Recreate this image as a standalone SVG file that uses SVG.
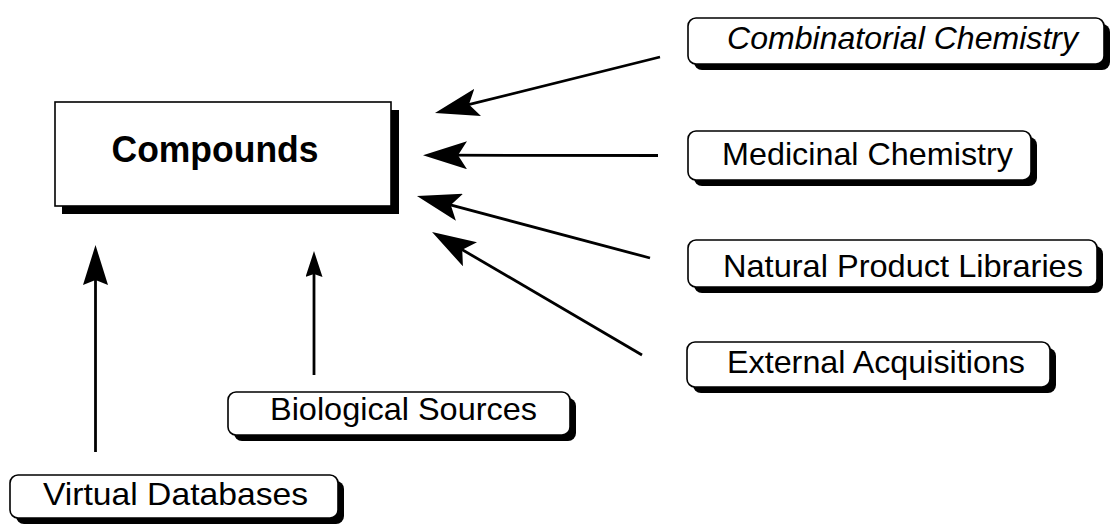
<svg xmlns="http://www.w3.org/2000/svg" width="1112" height="526" viewBox="0 0 1112 526">
<style>
.bg{fill:#fff}
.shadow{fill:#000}
.box{fill:#fff;stroke:#000;stroke-width:1.6}
.lbl{font-family:"Liberation Sans",Arial,sans-serif;font-size:32px;fill:#000}
.it{font-style:italic}
.main{font-family:"Liberation Sans",Arial,sans-serif;font-size:36px;font-weight:bold;fill:#000}
.conn{stroke:#000;stroke-width:2.8;fill:none}
</style>
<defs>
<marker id="big" markerUnits="userSpaceOnUse" viewBox="0 0 44 28" markerWidth="44" markerHeight="28" refX="24" refY="14" orient="auto">
<path d="M44,14 L0,0 L9,14 L0,28 Z" fill="#000"/>
</marker>
<marker id="mid" markerUnits="userSpaceOnUse" viewBox="0 0 40 25" markerWidth="40" markerHeight="25" refX="22" refY="12.5" orient="auto">
<path d="M40,12.5 L0,0 L5,12.5 L0,25 Z" fill="#000"/>
</marker>
<marker id="small" markerUnits="userSpaceOnUse" viewBox="0 0 26 17" markerWidth="26" markerHeight="17" refX="14" refY="8.5" orient="auto">
<path d="M26,8.5 L0,0 L3,8.5 L0,17 Z" fill="#000"/>
</marker>
</defs>
<rect class="bg" x="0" y="0" width="1112" height="526"/>
<g id="connectors">
<line class="conn" x1="660" y1="57" x2="454.4" y2="108.2" marker-end="url(#big)"/>
<line class="conn" x1="658" y1="155.5" x2="443" y2="155.2" marker-end="url(#big)"/>
<line class="conn" x1="650" y1="258" x2="436.3" y2="201.1" marker-end="url(#big)"/>
<line class="conn" x1="642" y1="355" x2="449.3" y2="242.1" marker-end="url(#big)"/>
<line class="conn" x1="95.5" y1="452" x2="95.5" y2="263" marker-end="url(#mid)"/>
<line class="conn" x1="314" y1="375" x2="314" y2="263" marker-end="url(#small)"/>
</g>
<g id="compounds">
<rect class="shadow" x="62" y="110" width="337" height="104"/>
<rect class="box" x="55" y="102" width="336" height="104" stroke-width="2"/>
<text class="main" x="111.5" y="162" textLength="207" lengthAdjust="spacingAndGlyphs">Compounds</text>
</g>
<g id="combinatorial">
<rect class="shadow" x="694" y="24" width="416" height="46" rx="8"/>
<rect class="box" x="688" y="18" width="416" height="46" rx="8"/>
<text class="lbl it" x="727" y="49" textLength="351" lengthAdjust="spacingAndGlyphs">Combinatorial Chemistry</text>
</g>
<g id="medicinal">
<rect class="shadow" x="694" y="137" width="343" height="49" rx="8"/>
<rect class="box" x="688" y="131" width="343" height="49" rx="8"/>
<text class="lbl" x="722" y="165" textLength="291" lengthAdjust="spacingAndGlyphs">Medicinal Chemistry</text>
</g>
<g id="natural">
<rect class="shadow" x="694" y="246" width="409" height="47" rx="8"/>
<rect class="box" x="688" y="240" width="409" height="47" rx="8"/>
<text class="lbl" x="723" y="277" textLength="360" lengthAdjust="spacingAndGlyphs">Natural Product Libraries</text>
</g>
<g id="external">
<rect class="shadow" x="693" y="348" width="363" height="45" rx="8"/>
<rect class="box" x="687" y="342" width="363" height="45" rx="8"/>
<text class="lbl" x="727" y="373" textLength="298" lengthAdjust="spacingAndGlyphs">External Acquisitions</text>
</g>
<g id="biological">
<rect class="shadow" x="234" y="398" width="342" height="43" rx="8"/>
<rect class="box" x="228" y="392" width="342" height="43" rx="8"/>
<text class="lbl" x="270" y="420" textLength="267" lengthAdjust="spacingAndGlyphs">Biological Sources</text>
</g>
<g id="virtual">
<rect class="shadow" x="16" y="481" width="328" height="43" rx="8"/>
<rect class="box" x="10" y="475" width="328" height="43" rx="8"/>
<text class="lbl" x="43" y="505" textLength="265" lengthAdjust="spacingAndGlyphs">Virtual Databases</text>
</g>
</svg>
